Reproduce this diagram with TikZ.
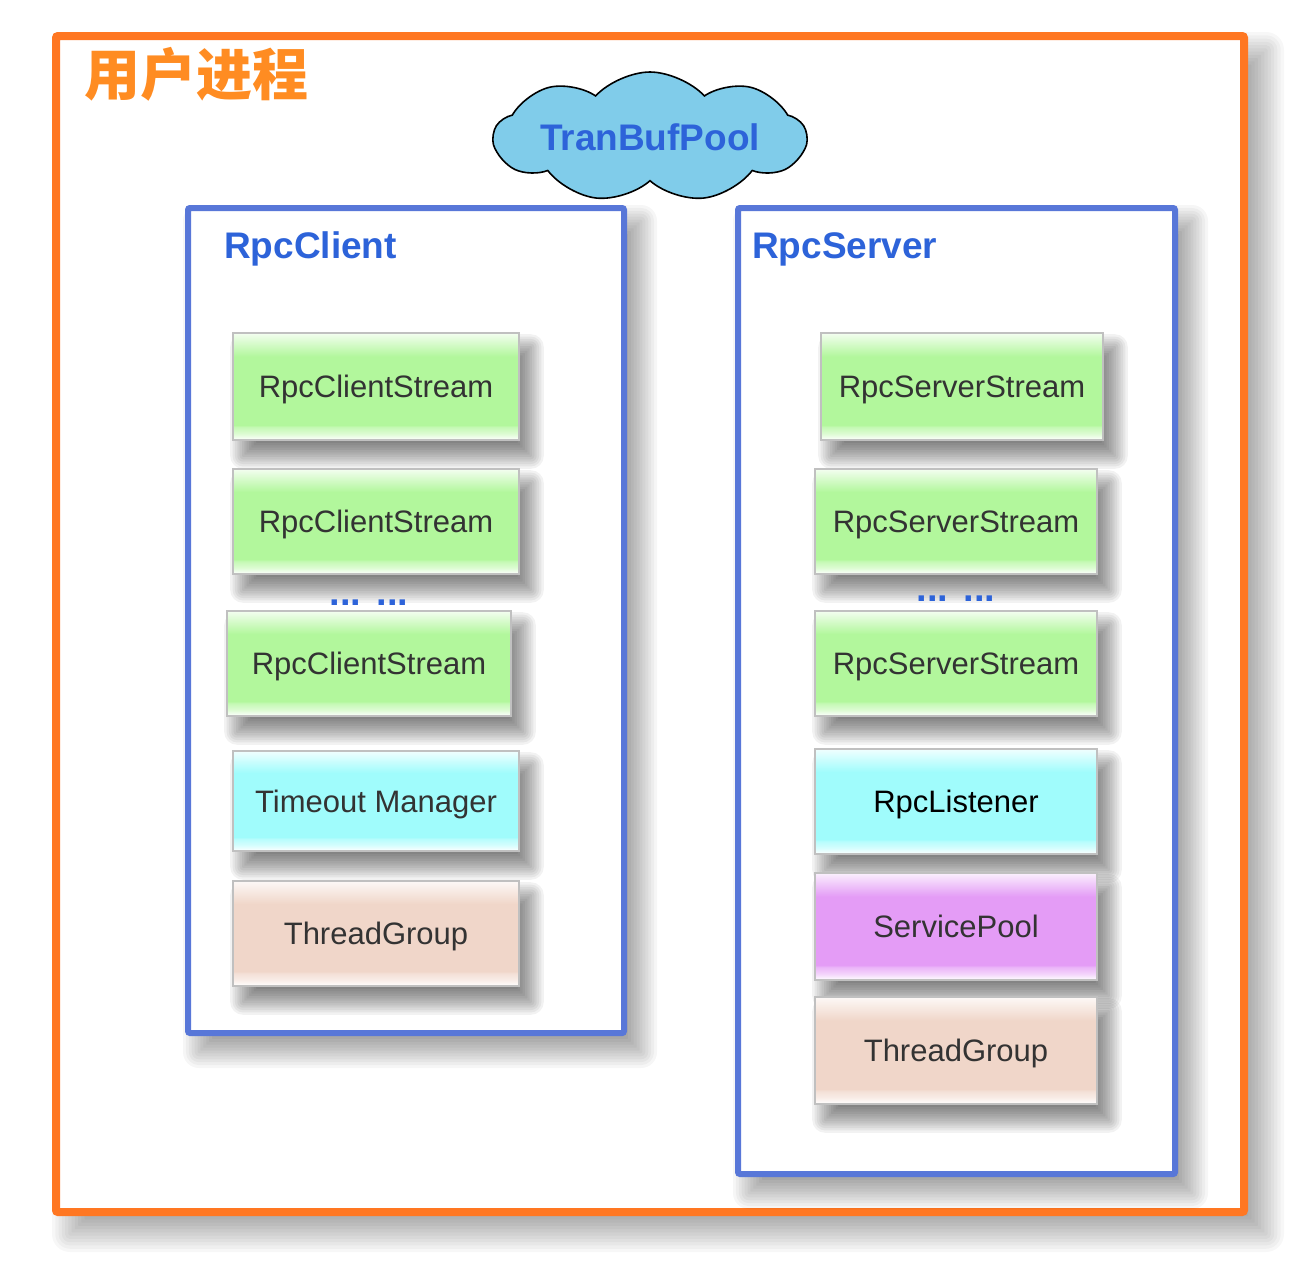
\documentclass[tikz,border=0pt]{standalone}
\usepackage{fontspec}
\setmainfont{Liberation Sans}
\newfontfamily\cjk{Noto Sans CJK SC}
\usetikzlibrary{shapes.symbols}
\definecolor{frameorange}{HTML}{FF7722}
\definecolor{titleorange}{HTML}{FF8C22}
\definecolor{frameblue}{HTML}{5877D8}
\definecolor{textblue}{HTML}{2D63D9}
\definecolor{cloudfill}{HTML}{80CCEA}
\definecolor{boxgreen}{HTML}{B2F79C}
\definecolor{boxcyan}{HTML}{A0FCFC}
\definecolor{boxmagenta}{HTML}{E49CF6}
\definecolor{boxpeach}{HTML}{F0D6C9}
\definecolor{boxtext}{HTML}{333333}
\definecolor{boxedge}{HTML}{C0C0C0}
\newcommand\mkshade[2]{\pgfdeclareverticalshading{#1}{100bp}{%
  color(0bp)=(white); color(25bp)=(white);
  color(28bp)=(#2!45!white); color(31bp)=(#2!75!white); color(32bp)=(#2);
  color(64bp)=(#2); color(75bp)=(#2!15!white); color(100bp)=(white)}}
\mkshade{shgreen}{boxgreen}
\mkshade{shcyan}{boxcyan}
\mkshade{shmagenta}{boxmagenta}
\mkshade{shpeach}{boxpeach}
\pgfdeclarelayer{shA}
\pgfdeclarelayer{frA}
\pgfdeclarelayer{shB}
\pgfdeclarelayer{frB}
\pgfdeclarelayer{shC}
\pgfsetlayers{shA,frA,shB,frB,shC,main}
% soft shadow of a named node: #1 node, #2 dx, #3 dy, #4 blur radius, #5 opacity per layer
\newcommand\softshadow[5]{%
  \foreach \k in {0,...,11} {%
    \pgfmathsetmacro\rr{#4*(1-2*\k/11)}%
    \pgfmathsetmacro\rc{max(\rr,0.5)}%
    \fill[black, opacity=#5, rounded corners=\rc pt]
      ([shift={(#2-\rr,#3-\rr)}]#1.north west) rectangle ([shift={(#2+\rr,#3+\rr)}]#1.south east);
  }}
\tikzset{
  compbox/.style={draw=boxedge, line width=1.6pt, rectangle, inner sep=0pt,
    text=boxtext, font=\fontsize{31}{36}\selectfont, text height=22.2pt, text depth=0pt},
  greenbox/.style={compbox, shading=shgreen},
  cyanbox/.style={compbox, shading=shcyan},
  magentabox/.style={compbox, shading=shmagenta},
  peachbox/.style={compbox, shading=shpeach},
  outerframe/.style={draw=frameorange, line width=8pt, fill=white, rounded corners=2pt, inner sep=0pt},
  groupframe/.style={draw=frameblue, line width=6pt, fill=white, rounded corners=2pt, inner sep=0pt},
  grouptitle/.style={text=textblue, font=\bfseries\fontsize{37}{42}\selectfont, anchor=base west, inner sep=0pt},
  dotsstyle/.style={text=textblue, font=\bfseries\fontsize{38}{44}\selectfont, anchor=base, inner sep=0pt},
}
\begin{document}
\begin{tikzpicture}[x=1pt,y=-1pt]
\useasboundingbox (0,0) rectangle (1303,1262);
\begin{pgfonlayer}{shA}
\fill[white] (0,0) rectangle (1303,1262);
\end{pgfonlayer}
% outer frame
\begin{pgfonlayer}{frA}
\node[outerframe, minimum width=1188pt, minimum height=1176pt] (proc) at (650,624) {};
\end{pgfonlayer}
\begin{pgfonlayer}{shA}
\softshadow{proc}{18}{18}{18}{0.03}
\end{pgfonlayer}
% group frames
\begin{pgfonlayer}{frB}
\node[groupframe, minimum width=436pt, minimum height=825pt] (client) at (406,620.5) {};
\node[groupframe, minimum width=437pt, minimum height=966pt] (server) at (956.5,691) {};
\end{pgfonlayer}
\begin{pgfonlayer}{shB}
\softshadow{client}{14}{16}{16}{0.035}
\softshadow{server}{14}{16}{16}{0.035}
\end{pgfonlayer}
\node[anchor=base west, inner sep=0pt, text=titleorange, font=\cjk\bfseries\fontsize{56}{60}\selectfont] (proctitle) at (84,95) {用户进程};
% cloud
\node[cloud, cloud puffs=9, cloud puff arc=95, cloud ignores aspect, draw=black, line width=1.6pt,
  fill=cloudfill, minimum width=312pt, minimum height=130pt, inner sep=0pt,
  text=textblue, font=\bfseries\fontsize{37}{42}\selectfont] (pool) at (650,137) {TranBufPool};
% client group
\node[grouptitle] (clienttitle) at (224,258) {RpcClient};
\node[greenbox, minimum width=286pt, minimum height=107pt] (c1) at (376,386.5) {RpcClientStream};
\node[greenbox, minimum width=286pt, minimum height=105pt] (c2) at (376,521.5) {RpcClientStream};
\node[dotsstyle] (cdots) at (369,605) {...\hspace{15pt}...};
\node[greenbox, minimum width=284pt, minimum height=105pt] (c3) at (369,663.5) {RpcClientStream};
\node[cyanbox, minimum width=286pt, minimum height=100pt] (c4) at (376,801) {Timeout Manager};
\node[peachbox, minimum width=286pt, minimum height=105pt] (c5) at (376,933.5) {ThreadGroup};
% server group
\node[grouptitle] (servertitle) at (752,258) {RpcServer};
\node[greenbox, minimum width=282pt, minimum height=107pt] (s1) at (962,386.5) {RpcServerStream};
\node[greenbox, minimum width=282pt, minimum height=105pt] (s2) at (956,521.5) {RpcServerStream};
\node[dotsstyle] (sdots) at (956,601) {...\hspace{15pt}...};
\node[greenbox, minimum width=282pt, minimum height=105pt] (s3) at (956,663.5) {RpcServerStream};
\node[cyanbox, minimum width=282pt, minimum height=105pt, text=black] (s4) at (956,801.5) {RpcListener};
\node[magentabox, minimum width=282pt, minimum height=107pt] (s5) at (956,926.5) {ServicePool};
\node[peachbox, minimum width=282pt, minimum height=107pt] (s6) at (956,1050.5) {ThreadGroup};
% box shadows
\begin{pgfonlayer}{shC}
\foreach \n in {c1,c2,c3,c4,c5,s1,s2,s3,s4,s5,s6} {\softshadow{\n}{11}{15}{13}{0.05}}
\end{pgfonlayer}
\end{tikzpicture}
\end{document}
